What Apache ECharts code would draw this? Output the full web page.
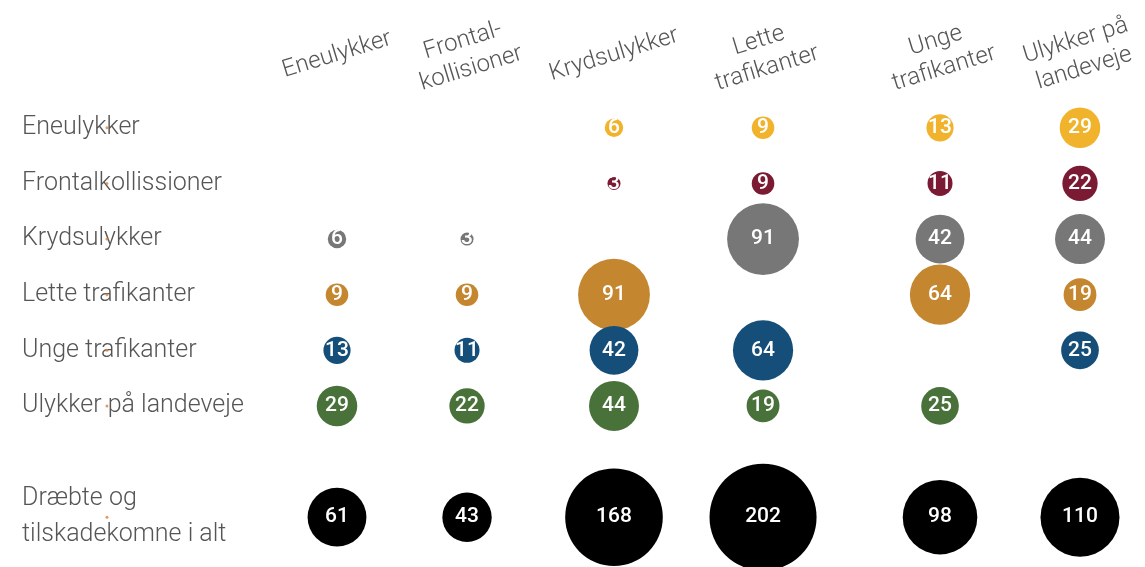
<!DOCTYPE html>
<html>
<head>
<meta charset="utf-8">
<script src="https://cdn.jsdelivr.net/npm/echarts@6/dist/echarts.min.js"></script>
<style>html,body{margin:0;padding:0;background:#fff}#c{width:1145px;height:567px}</style>
</head>
<body>
<div id="c"></div>
<script>
// ---- data ----
const columnLabels = ['Eneulykker', 'Frontal-\nkollisioner', 'Krydsulykker', 'Lette\ntrafikanter', 'Unge\ntrafikanter', 'Ulykker på\nlandeveje'];
const rowLabels = ['Eneulykker', 'Frontalkollissioner', 'Krydsulykker', 'Lette trafikanter', 'Unge trafikanter', 'Ulykker på landeveje'];
const totalLabel = 'Dræbte og\ntilskadekomne i alt';
const eneulykker      = [null, null, 6, 9, 13, 29];
const frontal         = [null, null, 3, 9, 11, 22];
const krydsulykker    = [6, 3, null, 91, 42, 44];
const letteTrafikanter= [9, 9, 91, null, 64, 19];
const ungeTrafikanter = [13, 11, 42, 64, null, 25];
const landeveje       = [29, 22, 44, 19, 25, null];
const totals          = [61, 43, 168, 202, 98, 110];

// ---- layout / style ----
const colPos = [0, 0.875, 1.864, 2.867, 4.058, 5]; // horizontal slot of each column on the x scale
const markerPos = -1.548;
const rowColors = ['#F2B32C', '#7B1A33', '#777777', '#C4862F', '#154E78', '#49713A', '#000000'];
const rows = [eneulykker, frontal, krydsulykker, letteTrafikanter, ungeTrafikanter, landeveje];
const yCats = rowLabels.concat(['', totalLabel]);
const sizeOf = v => 7.53 * Math.sqrt(v);

function bubbleSeries(values, rowIdx, color) {
  const data = [];
  values.forEach((v, j) => { if (v != null) data.push([colPos[j], rowIdx, v]); });
  return {
    type: 'scatter', clip: false, data,
    symbol: 'circle',
    symbolSize: d => sizeOf(d[2]),
    itemStyle: { color, opacity: 1 },
    label: { show: true, position: 'inside', formatter: p => p.value[2], color: '#fff',
      fontFamily: 'Roboto', fontSize: 21, fontWeight: 500 },
    emphasis: { disabled: true },
    silent: true
  };
}

const series = rows.map((r, i) => bubbleSeries(r, i, rowColors[i]));
series.push(bubbleSeries(totals, 7, rowColors[6]));
series.unshift({
  type: 'scatter', clip: false, silent: true, symbolSize: 3,
  itemStyle: { color: '#D9823B' },
  data: yCats.map((c, i) => c ? [markerPos, i] : null).filter(Boolean)
});

const chart = echarts.init(document.getElementById('c'), null, { renderer: 'canvas' });
chart.setOption({
  animation: false,
  backgroundColor: '#fff',
  grid: { left: 337, right: 65, top: 100, bottom: 22 },
  xAxis: { type: 'value', min: 0, max: 5, show: false },
  yAxis: {
    type: 'category', inverse: true, data: yCats,
    axisLine: { show: false }, axisTick: { show: false }, splitLine: { show: false },
    axisLabel: { align: 'left', margin: 315, color: '#555', fontFamily: 'Roboto', fontWeight: 300,
      fontSize: 25, lineHeight: 36 }
  },
  series
});

const headerGraphics = columnLabels.map((t, j) => {
  const p = chart.convertToPixel({ xAxisIndex: 0, yAxisIndex: 0 }, [colPos[j], 0]);
  return {
    type: 'text', x: p[0], y: p[1] - 73, rotation: 17 * Math.PI / 180, silent: true,
    style: { text: t, fill: '#555', font: '300 24px Roboto', align: 'center', verticalAlign: 'middle', lineHeight: 29 }
  };
});
chart.setOption({ graphic: headerGraphics });
</script>
</body>
</html>
